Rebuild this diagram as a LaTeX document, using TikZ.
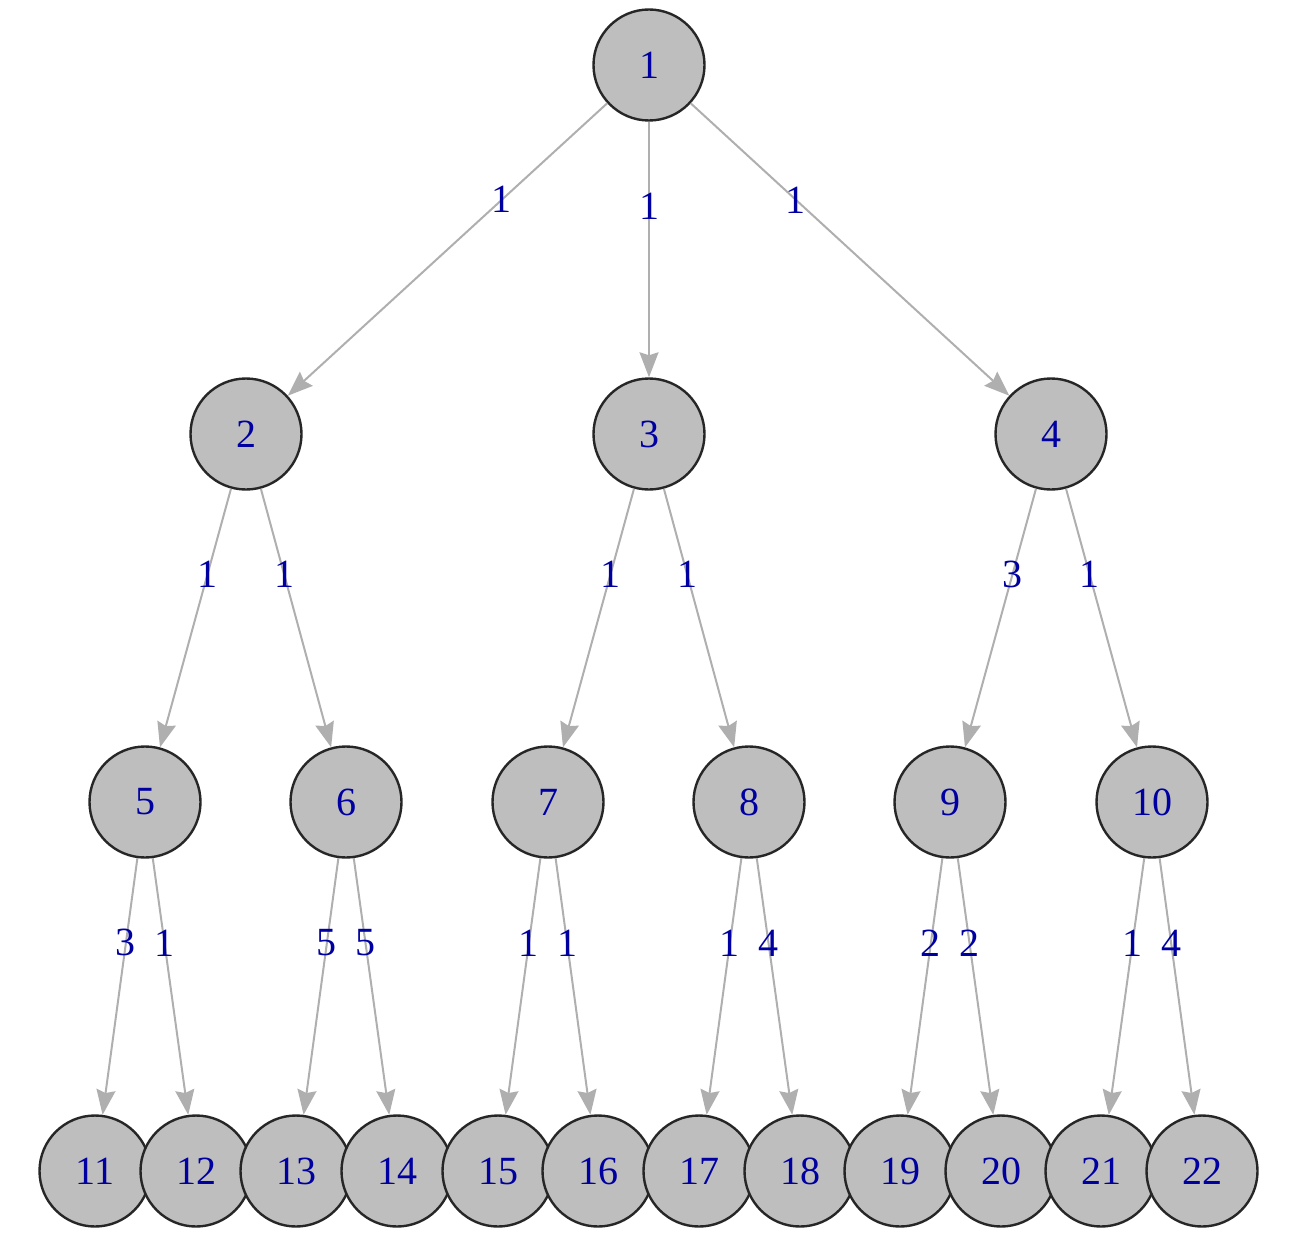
\documentclass[tikz,border=0pt]{standalone}
\usepackage{fontspec}
\setmainfont{Liberation Serif}
\usetikzlibrary{arrows.meta}
\usepackage{xcolor}
\definecolor{vertexgray}{HTML}{BEBEBE}
\definecolor{linkgray}{HTML}{AFAFAF}
\definecolor{labelblue}{HTML}{0000A0}

\begin{document}
\begin{tikzpicture}[x=0.5pt, y=-0.5pt,
    vertex/.style={circle, draw=black!85, line width=1.2pt, fill=vertexgray, minimum size=55.5pt, inner sep=0pt, text=labelblue, font=\fontsize{20}{21}\selectfont},
    link/.style={draw=linkgray, line width=1pt, -{Stealth[length=12.5pt, width=9.5pt, inset=1.5pt]}},
    weight/.style={pos=0.33, inner sep=0pt, text=labelblue, font=\fontsize{20}{21}\selectfont}]
    \useasboundingbox (0,0) rectangle (1306,1252);
    % levels
    \node[vertex] (v1) at (649,65) {1};
    \node[vertex] (v2) at (246,434) {2};
    \node[vertex] (v3) at (649,434) {3};
    \node[vertex] (v4) at (1051,434) {4};
    \node[vertex] (v5) at (145,802) {5};
    \node[vertex] (v6) at (346,802) {6};
    \node[vertex] (v7) at (548,802) {7};
    \node[vertex] (v8) at (749,802) {8};
    \node[vertex] (v9) at (950,802) {9};
    \node[vertex] (v10) at (1152,802) {10};
    \node[vertex] (v11) at (95,1171) {11};
    \node[vertex] (v12) at (196,1171) {12};
    \node[vertex] (v13) at (296,1171) {13};
    \node[vertex] (v14) at (397,1171) {14};
    \node[vertex] (v15) at (498,1171) {15};
    \node[vertex] (v16) at (598,1171) {16};
    \node[vertex] (v17) at (699,1171) {17};
    \node[vertex] (v18) at (800,1171) {18};
    \node[vertex] (v19) at (900,1171) {19};
    \node[vertex] (v20) at (1001,1171) {20};
    \node[vertex] (v21) at (1101,1171) {21};
    \node[vertex] (v22) at (1202,1171) {22};
    % weighted links
    \draw[link] (v1) -- node[weight]{1} (v2);
    \draw[link] (v1) -- node[weight]{1} (v3);
    \draw[link] (v1) -- node[weight]{1} (v4);
    \draw[link] (v2) -- node[weight]{1} (v5);
    \draw[link] (v2) -- node[weight]{1} (v6);
    \draw[link] (v3) -- node[weight]{1} (v7);
    \draw[link] (v3) -- node[weight]{1} (v8);
    \draw[link] (v4) -- node[weight]{3} (v9);
    \draw[link] (v4) -- node[weight]{1} (v10);
    \draw[link] (v5) -- node[weight]{3} (v11);
    \draw[link] (v5) -- node[weight]{1} (v12);
    \draw[link] (v6) -- node[weight]{5} (v13);
    \draw[link] (v6) -- node[weight]{5} (v14);
    \draw[link] (v7) -- node[weight]{1} (v15);
    \draw[link] (v7) -- node[weight]{1} (v16);
    \draw[link] (v8) -- node[weight]{1} (v17);
    \draw[link] (v8) -- node[weight]{4} (v18);
    \draw[link] (v9) -- node[weight]{2} (v19);
    \draw[link] (v9) -- node[weight]{2} (v20);
    \draw[link] (v10) -- node[weight]{1} (v21);
    \draw[link] (v10) -- node[weight]{4} (v22);
\end{tikzpicture}
\end{document}
